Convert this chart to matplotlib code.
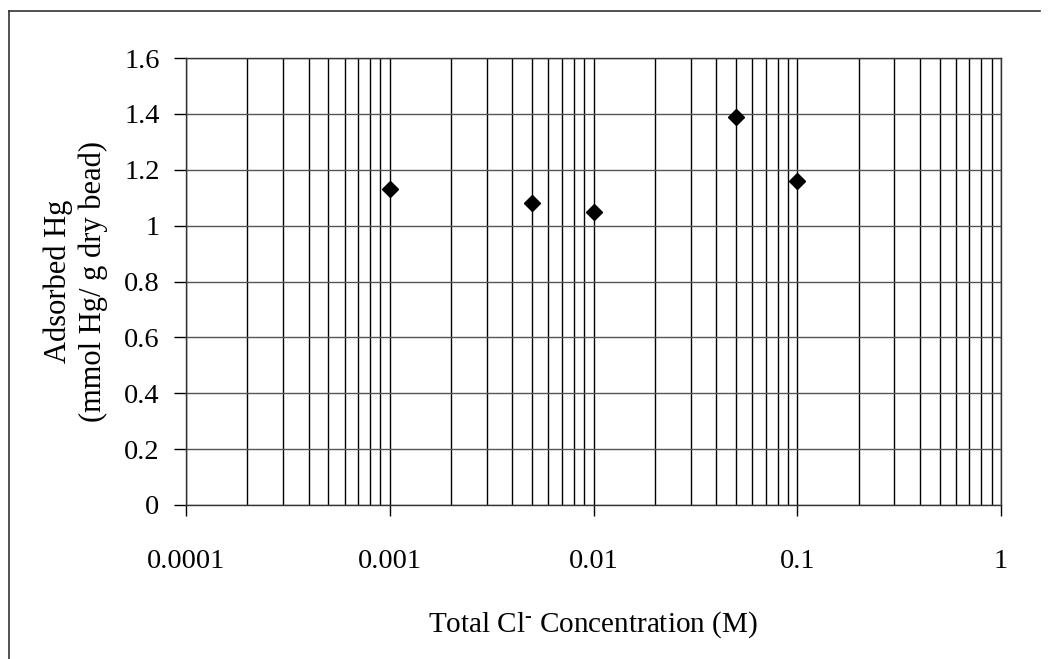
import matplotlib
matplotlib.use("Agg")
import matplotlib.pyplot as plt
from matplotlib.ticker import LogLocator, FixedLocator, NullFormatter
from matplotlib.lines import Line2D

plt.rcParams['font.family'] = ['Liberation Serif', 'DejaVu Serif']
plt.rcParams['mathtext.fontset'] = 'custom'
plt.rcParams['mathtext.rm'] = 'Liberation Serif'
plt.rcParams['mathtext.it'] = 'Liberation Serif'

cl_conc = [0.001, 0.005, 0.01, 0.05, 0.1]
adsorbed_hg = [1.13, 1.08, 1.05, 1.39, 1.16]
x_ticks = [0.0001, 0.001, 0.01, 0.1, 1]
x_tick_labels = ["0.0001", "0.001", "0.01", "0.1", "1"]
y_ticks = [0, 0.2, 0.4, 0.6, 0.8, 1, 1.2, 1.4, 1.6]
y_tick_labels = ["0", "0.2", "0.4", "0.6", "0.8", "1", "1.2", "1.4", "1.6"]

W, H = 1049, 659
fig = plt.figure(figsize=(W / 100, H / 100), dpi=100)
ax = fig.add_axes([186 / W, 1 - 505 / H, (1001 - 186) / W, (505 - 58) / H])

# partial figure frame (top and left edges visible)
fig.lines.append(Line2D([9 / W, 9 / W], [0, 1 - 11 / H], transform=fig.transFigure,
                        color='#333333', linewidth=1.2))
fig.lines.append(Line2D([9 / W, 1040 / W], [1 - 11 / H, 1 - 11 / H],
                        transform=fig.transFigure, color='#333333', linewidth=1.2))

ax.set_xscale('log')
ax.set_xlim(x_ticks[0], x_ticks[-1])
ax.set_ylim(y_ticks[0], y_ticks[-1])

ax.xaxis.set_major_locator(FixedLocator(x_ticks))
ax.set_xticklabels(x_tick_labels)
ax.xaxis.set_minor_locator(LogLocator(base=10, subs=range(2, 10), numticks=20))
ax.xaxis.set_minor_formatter(NullFormatter())
ax.set_yticks(y_ticks)
ax.set_yticklabels(y_tick_labels)

ax.grid(True, which='major', axis='x', color='black', linewidth=1.0)
ax.grid(True, which='minor', axis='x', color='black', linewidth=1.0)
ax.grid(True, which='major', axis='y', color='#555555', linewidth=1.0)
ax.set_axisbelow(True)

ax.tick_params(axis='x', which='major', direction='out', length=8, width=1,
               labelsize=20.5, pad=24)
ax.tick_params(axis='x', which='minor', length=0)
ax.tick_params(axis='y', which='major', direction='out', length=9, width=1,
               labelsize=20.5, pad=10)
for s in ax.spines.values():
    s.set_color('#333333')
    s.set_linewidth(1.0)
ax.spines['top'].set_linestyle((0, (3, 1)))
ax.spines['right'].set_linestyle((0, (3, 1)))

ax.plot(cl_conc, adsorbed_hg, linestyle='none', marker='D', markersize=8,
        color='black', zorder=5, clip_on=False)

fig.text(76 / W, 1 - 281 / H, "Adsorbed Hg\n(mmol Hg/ g dry bead)", rotation=90,
         ha='center', va='center', fontsize=22, linespacing=1.25,
         multialignment='center')
fig.text(593 / W, 1 - 625 / H, r"Total Cl$^{\text{-}}$ Concentration (M)",
         ha='center', va='center', fontsize=21)

fig.savefig("out.png", dpi=100, facecolor='white')
